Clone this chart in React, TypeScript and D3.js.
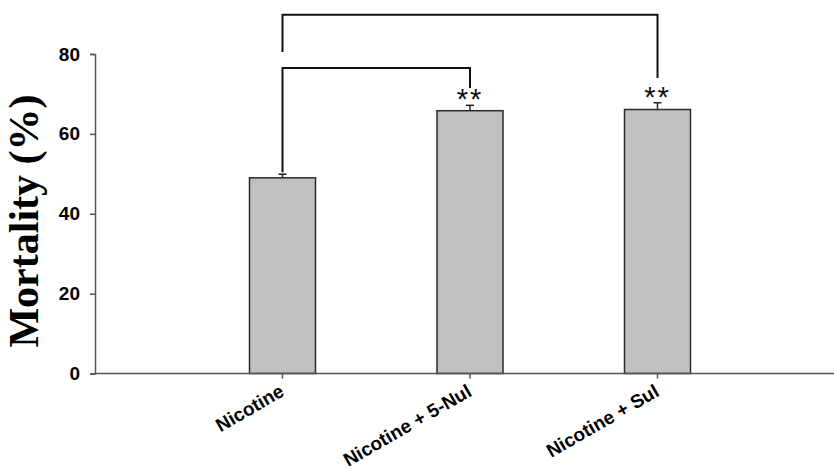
import React, { useRef, useEffect } from 'react';
import * as d3 from 'd3';

const categories = ['Nicotine', 'Nicotine + 5-Nul', 'Nicotine + Sul'];
const means = [49.0, 65.8, 66.1];
const errors = [0.9, 1.35, 1.7];
const stars = ['', '**', '**'];
const yTicks = [0, 20, 40, 60, 80];

// comparison brackets: [from index, to index, bracket level, left leg end, right leg end]
const brackets = [
  [0, 1, 76.5, 50.4, 71.5],
  [0, 2, 89.8, 80.5, 74.0],
];

const App = () => {
  const ref = useRef(null);

  useEffect(() => {
    const svg = d3.select(ref.current);
    svg.selectAll('*').remove();

    const left = 95;
    const x = d3.scalePoint().domain(categories).range([left, 845]).padding(1);
    const y = d3.scaleLinear().domain([0, 80]).range([373.5, 54]);
    const barW = 66;

    // bars
    svg.selectAll('.bar')
      .data(categories)
      .enter()
      .append('rect')
      .attr('x', d => x(d) - barW / 2)
      .attr('y', (d, i) => y(means[i]))
      .attr('width', barW)
      .attr('height', (d, i) => y(0) - y(means[i]))
      .attr('fill', '#c0c0c0')
      .attr('stroke', '#2a2a2a')
      .attr('stroke-width', 1.5);

    // upper error bars
    const eb = svg.append('g').attr('stroke', '#222').attr('stroke-width', 1.5);
    categories.forEach((c, i) => {
      eb.append('line')
        .attr('x1', x(c)).attr('x2', x(c))
        .attr('y1', y(means[i])).attr('y2', y(means[i] + errors[i]));
      eb.append('line')
        .attr('x1', x(c) - 4).attr('x2', x(c) + 4)
        .attr('y1', y(means[i] + errors[i])).attr('y2', y(means[i] + errors[i]));
    });

    // y axis
    const yAxis = svg.append('g')
      .attr('transform', `translate(${left},0)`)
      .call(d3.axisLeft(y).tickValues(yTicks).tickSize(5).tickPadding(10));
    yAxis.select('.domain').attr('stroke', '#555').attr('stroke-width', 1.5);
    yAxis.selectAll('.tick line').attr('stroke', '#555').attr('stroke-width', 1.5);
    yAxis.selectAll('.tick text')
      .attr('font-family', 'Liberation Sans, Arial, sans-serif')
      .attr('font-weight', 'bold')
      .attr('font-size', 19)
      .attr('fill', '#000');

    // x axis
    svg.append('line')
      .attr('x1', left).attr('x2', 834)
      .attr('y1', y(0)).attr('y2', y(0))
      .attr('stroke', '#555').attr('stroke-width', 1.5);
    const xt = svg.append('g');
    categories.forEach(c => {
      xt.append('line')
        .attr('x1', x(c)).attr('x2', x(c))
        .attr('y1', y(0)).attr('y2', y(0) + 5)
        .attr('stroke', '#555').attr('stroke-width', 1.5);
      xt.append('text')
        .attr('transform', `translate(${x(c) + 3},395) rotate(-30)`)
        .attr('text-anchor', 'end')
        .attr('font-family', 'Liberation Sans, Arial, sans-serif')
        .attr('font-weight', 'bold')
        .attr('font-size', 19)
        .text(c);
    });

    // y title
    svg.append('text')
      .attr('transform', `translate(38,221) rotate(-90)`)
      .attr('text-anchor', 'middle')
      .attr('font-family', 'Liberation Serif, Times New Roman, serif')
      .attr('font-weight', 'bold')
      .attr('font-size', 42)
      .text('Mortality (%)');

    // significance stars
    svg.selectAll('.star')
      .data(categories)
      .enter()
      .append('text')
      .attr('x', d => x(d))
      .attr('y', (d, i) => y(means[i] + errors[i]) + 4)
      .attr('text-anchor', 'middle')
      .attr('font-family', 'Liberation Sans, Arial, sans-serif')
      .attr('font-size', 29)
      .attr('letter-spacing', 2)
      .attr('fill', '#111')
      .text((d, i) => stars[i]);

    // brackets
    brackets.forEach(([a, b, lvl, la, lb]) => {
      const xa = x(categories[a]);
      const xb = x(categories[b]);
      svg.append('path')
        .attr('d', `M${xa},${y(la)}V${y(lvl)}H${xb}V${y(lb)}`)
        .attr('fill', 'none')
        .attr('stroke', '#111')
        .attr('stroke-width', 2);
    });
  }, []);

  return (
    <svg ref={ref} width="834" height="470"
      style={{ position: 'absolute', left: 0, top: 0, background: '#fff' }}></svg>
  );
};

export default App;
